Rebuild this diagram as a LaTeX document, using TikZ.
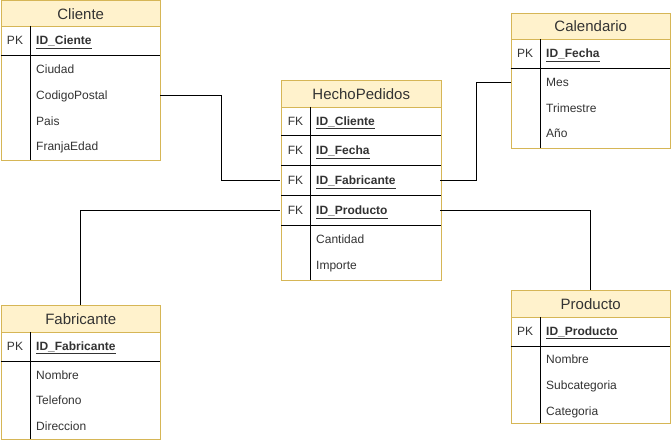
\documentclass[tikz,border=0pt]{standalone}
\usepackage{fontspec}
\setmainfont{Liberation Sans}
\definecolor{hdrfill}{HTML}{FFF2CC}
\definecolor{hdrline}{HTML}{D6B656}
\definecolor{txt}{HTML}{333333}
\newcommand\keyul[1]{\underline{#1}}
\tikzset{
  hdr/.style={draw=hdrline, fill=hdrfill, line width=1pt, minimum width=159.5pt, inner sep=0pt,
    anchor=north west, font=\fontsize{15}{18}\selectfont, text=txt},
  bodybox/.style={draw=hdrline, fill=white, line width=1pt, inner sep=0pt, minimum width=159.5pt, anchor=north west},
  keyc/.style={anchor=center, minimum width=30pt, inner sep=0pt, text height=10pt, text depth=2pt,
    font=\fontsize{12}{14}\selectfont, text=txt},
  fld/.style={anchor=west, inner xsep=6pt, inner ysep=0pt, text width=118pt, align=left,
    text height=10pt, text depth=2pt, font=\fontsize{12}{14}\selectfont, text=txt},
  pkf/.style={fld, font=\fontsize{12}{14}\selectfont\bfseries},
  sep/.style={black, line width=1pt},
  conn/.style={black, line width=1pt},
}
\begin{document}
\begin{tikzpicture}[x=1pt,y=-1pt]
\useasboundingbox (0,0) rectangle (671,443);

% ---------- Cliente ----------
\node[bodybox, minimum height=134pt] (cli-b) at (0.5,26) {};
\node[hdr, minimum height=26pt] (cli-h) at (0.5,0.5) {Cliente};
\draw[sep] (30,26) -- (30,160);
\draw[sep] (0.5,56) -- (160,56);
\node[keyc] (cli-pk) at (15,41) {PK};
\node[pkf] (cli-id) at (30,41) {\keyul{ID\_Ciente}};
\node[fld] (cli-ciu) at (30,70) {Ciudad};
\node[fld] (cli-cp) at (30,96) {CodigoPostal};
\node[fld] (cli-pais) at (30,122) {Pais};
\node[fld] (cli-fe) at (30,147) {FranjaEdad};

% ---------- HechoPedidos ----------
\node[bodybox, minimum height=173pt] (hp-b) at (281,107) {};
\node[hdr, minimum height=27pt] (hp-h) at (281,80) {HechoPedidos};
\draw[sep] (310,107) -- (310,280);
\foreach \yy in {136,166,196,226} \draw[sep] (281,\yy) -- (440.5,\yy);
\node[keyc] (hp-k1) at (295.5,121.5) {FK};
\node[keyc] (hp-k2) at (295.5,151) {FK};
\node[keyc] (hp-k3) at (295.5,181) {FK};
\node[keyc] (hp-k4) at (295.5,211) {FK};
\node[pkf] (hp-f1) at (310,121.5) {\keyul{ID\_Cliente}};
\node[pkf] (hp-f2) at (310,151) {\keyul{ID\_Fecha}};
\node[pkf] (hp-f3) at (310,181) {\keyul{ID\_Fabricante}};
\node[pkf] (hp-f4) at (310,211) {\keyul{ID\_Producto}};
\node[fld] (hp-can) at (310,240) {Cantidad};
\node[fld] (hp-imp) at (310,266) {Importe};

% ---------- Calendario ----------
\node[bodybox, minimum height=109pt] (cal-b) at (510.5,39) {};
\node[hdr, minimum height=26pt] (cal-h) at (510.5,13) {Calendario};
\draw[sep] (540,39) -- (540,148);
\draw[sep] (510.5,69) -- (670,69);
\node[keyc] (cal-pk) at (525,54) {PK};
\node[pkf] (cal-id) at (540,54) {\keyul{ID\_Fecha}};
\node[fld] (cal-mes) at (540,83) {Mes};
\node[fld] (cal-tri) at (540,109) {Trimestre};
\node[fld] (cal-ano) at (540,134) {Año};

% ---------- Fabricante ----------
\node[bodybox, minimum height=107pt] (fab-b) at (0.5,332) {};
\node[hdr, minimum height=27pt] (fab-h) at (0.5,305) {Fabricante};
\draw[sep] (30,332) -- (30,439);
\draw[sep] (0.5,361) -- (160,361);
\node[keyc] (fab-pk) at (15,346) {PK};
\node[pkf] (fab-id) at (30,346) {\keyul{ID\_Fabricante}};
\node[fld] (fab-nom) at (30,375) {Nombre};
\node[fld] (fab-tel) at (30,400) {Telefono};
\node[fld] (fab-dir) at (30,426) {Direccion};

% ---------- Producto ----------
\node[bodybox, minimum height=106pt] (pro-b) at (510.5,317) {};
\node[hdr, minimum height=27pt] (pro-h) at (510.5,290) {Producto};
\draw[sep] (540,317) -- (540,423);
\draw[sep] (510.5,346) -- (670,346);
\node[keyc] (pro-pk) at (525,331) {PK};
\node[pkf] (pro-id) at (540,331) {\keyul{ID\_Producto}};
\node[fld] (pro-nom) at (540,359) {Nombre};
\node[fld] (pro-sub) at (540,385) {Subcategoria};
\node[fld] (pro-cat) at (540,411) {Categoria};

% ---------- connectors ----------
\draw[conn] (cli-cp.east) -- ++(61,0) |- (hp-k3.west);
\draw[conn] (cal-mes.west -| cal-h.west) -- ++(-34,0) |- (hp-f3.east);
\draw[conn] (fab-h.north) |- (hp-k4.west);
\draw[conn] (pro-h.north) |- (hp-f4.east);
\end{tikzpicture}
\end{document}
